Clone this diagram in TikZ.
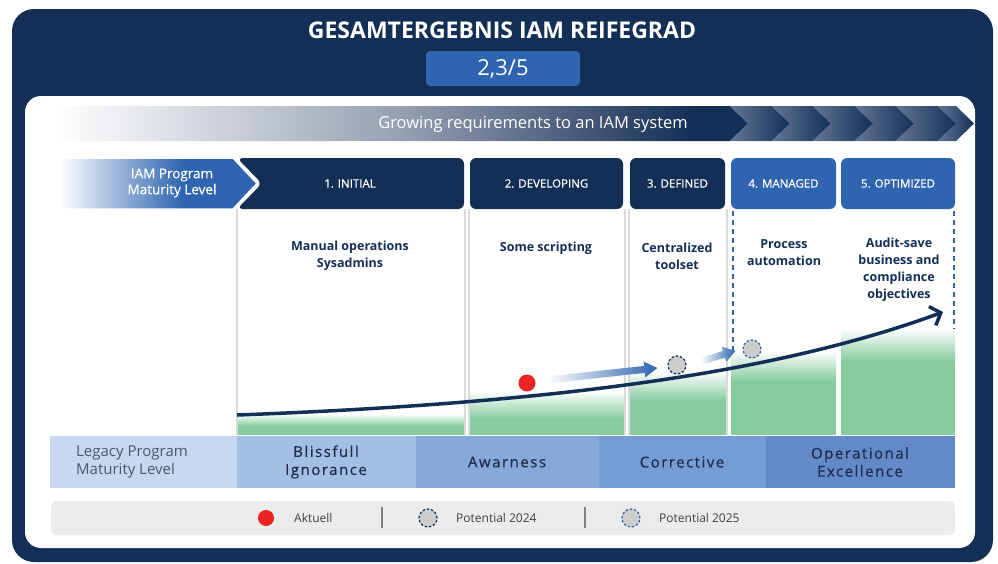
\documentclass[tikz,border=0pt]{standalone}
\usepackage{fontspec}
\setmainfont{Open Sans}
\newfontfamily\medfont[FakeBold=0.5]{Open Sans}
\usetikzlibrary{arrows.meta,calc}
\definecolor{navy}{RGB}{19,47,85}
\definecolor{mblue}{RGB}{46,100,176}
\definecolor{mgreen}{RGB}{134,204,159}
\definecolor{gbmid}{RGB}{150,160,178}
\definecolor{gbdark}{RGB}{58,78,112}
\definecolor{chevl}{RGB}{100,118,150}
\definecolor{cLegacy}{RGB}{198,217,240}
\definecolor{cBliss}{RGB}{163,191,227}
\definecolor{cAware}{RGB}{134,169,218}
\definecolor{cCorr}{RGB}{118,157,211}
\definecolor{cOper}{RGB}{100,137,200}
\definecolor{rowtext}{RGB}{30,45,75}
\definecolor{legtext}{RGB}{64,64,64}
\definecolor{legbg}{RGB}{236,236,236}
\definecolor{sepgrey}{RGB}{218,218,218}
\definecolor{dotgrey}{RGB}{205,205,205}
\definecolor{dotred}{RGB}{235,35,35}
\pgfdeclarehorizontalshading{growbar}{100bp}{color(0bp)=(white); color(25bp)=(white); color(50bp)=(gbmid); color(65bp)=(gbdark); color(71bp)=(navy); color(100bp)=(navy)}
\pgfdeclarehorizontalshading{iamarrow}{100bp}{color(0bp)=(white); color(25bp)=(white); color(56bp)=(mblue); color(100bp)=(mblue)}
\begin{document}
\begin{tikzpicture}[x=1pt,y=-1pt,
  hbox/.style={fill=navy, rounded corners=6pt, minimum height=51pt, inner sep=0pt, outer sep=0pt, text=white, font=\medfont\fontsize{11.5}{13}\selectfont},
  coltxt/.style={text=navy, font=\bfseries\fontsize{12.5}{17}\selectfont, align=center, inner sep=0pt},
  cell/.style={minimum height=52pt, inner sep=0pt, outer sep=0pt},
  rowtxt/.style={text=rowtext, font=\medfont\fontsize{15}{18}\selectfont\addfontfeatures{LetterSpace=10}, align=center, inner sep=0pt},
  legtxt/.style={text=legtext, font=\fontsize{12}{14}\selectfont, anchor=west, inner sep=0pt},
  gdot/.style={circle, minimum size=18pt, inner sep=0pt, fill=dotgrey, draw=navy, line width=1.2pt, dash pattern=on 2.5pt off 1.8pt},
  bdot/.style={circle, minimum size=18pt, inner sep=0pt, fill=dotgrey, draw=mblue, line width=1.2pt, dash pattern=on 2.5pt off 1.8pt},
  rdot/.style={circle, minimum size=17pt, inner sep=0pt, fill=dotred},
  greenfade/.style={top color=white, bottom color=mgreen},
]
\useasboundingbox (0,0) rectangle (998,563);
% frames
\fill[navy, rounded corners=22pt] (12,9) rectangle (993,562);
\fill[white, rounded corners=16pt] (25,96) rectangle (975,548);
% title
\node[text=white, font=\bfseries\fontsize{23}{26}\selectfont, inner sep=0pt] (title) at (502,30) {GESAMTERGEBNIS IAM REIFEGRAD};
\node[fill=mblue, rounded corners=4pt, minimum width=154pt, minimum height=35pt, inner sep=0pt, text=white, font=\fontsize{22}{24}\selectfont] (score) at (503,68.5) {2,3/5};
% growing bar
\shade[shading=growbar] (55,106) -- (730,106) -- (748,123.5) -- (730,141) -- (55,141) -- cycle;
\foreach \a/\b in {748/790, 790/831, 831/873, 873/914, 914/956, 956/974}{
  \shade[left color=chevl, right color=navy] ({\a-18},106) -- ({\b-18},106) -- (\b,123.5) -- ({\b-18},141) -- ({\a-18},141) -- (\a,123.5) -- cycle;
}
\node[text=white, font=\fontsize{16.5}{19}\selectfont, inner sep=0pt] (grow) at (533,124) {Growing requirements to an IAM system};
% columns: green areas
\foreach \l/\r/\t/\f in {237/465/414/12, 469/624/391/28, 630/726/371/30, 731/836/351/30, 841/955/329/32}{
  \fill[mgreen] (\l,{\t+\f}) rectangle (\r,435);
  \shade[greenfade] (\l,\t) rectangle (\r,{\t+\f});
}
% column borders
\foreach \x in {237,465,469,625,629,727}{
  \draw[sepgrey, line width=1.2pt] (\x,209) -- (\x,435);
}
\draw[mblue, line width=1.6pt, dash pattern=on 5pt off 4pt] (733,211) -- (733,350);
\draw[mblue, line width=1.6pt, dash pattern=on 5pt off 4pt] (954,211) -- (954,329);
% header row
\shade[shading=iamarrow, draw=white, line width=1.5pt] (60,158) -- (233,158) -- (257,183.5) -- (233,209) -- (60,209) -- cycle;
\node[text=white, font=\medfont\fontsize{13.5}{16}\selectfont, align=center, inner sep=0pt] (iam) at (172,183) {IAM Program\\Maturity Level};
\fill[navy, rounded corners=6pt] (237,158) -- (464,158) -- (464,209) -- (237,209) -- (262,183.5) -- cycle;
\node[text=white, font=\medfont\fontsize{11.5}{13}\selectfont, inner sep=0pt] (b1) at (350,183.5) {1. INITIAL};
\node[hbox, minimum width=153pt] (b2) at (546.5,183.5) {2. DEVELOPING};
\node[hbox, minimum width=95pt] (b3) at (677.5,183.5) {3. DEFINED};
\node[hbox, fill=mblue, minimum width=105pt] (b4) at (783.5,183.5) {4. MANAGED};
\node[hbox, fill=mblue, minimum width=114pt] (b5) at (898,183.5) {5. OPTIMIZED};
% column texts
\node[coltxt] (t1) at (350,256) {Manual operations\\Sysadmins};
\node[coltxt] (t2) at (546,248) {Some scripting};
\node[coltxt] (t3) at (677,256) {Centralized\\toolset};
\node[coltxt] (t4) at (784,253) {Process\\automation};
\node[coltxt] (t5) at (899,270) {Audit-save\\business and\\compliance\\objectives};
% curve
\coordinate (cs) at (237,415);
\coordinate (ce) at (943,312);
\draw[navy, line width=3.5pt, -{Straight Barb[length=9pt,width=20pt]}] (cs) .. controls (560,403) and (780,372) .. (ce);
% status dots and arrows
\node[rdot] (now) at (527,383) {};
\node[gdot] (p24) at (677,365) {};
\node[bdot] (p25) at (752,349) {};
\begin{scope}[shift={(547,380)}, rotate=6.2]
  \shade[left color=white, right color=mblue] (0,-3.5) -- (98,-3.5) -- (98,-8) -- (111,0) -- (98,8) -- (98,3.5) -- (0,3.5) -- cycle;
\end{scope}
\begin{scope}[shift={(702,361)}, rotate=17]
  \shade[left color=white, right color=mblue] (0,-3.5) -- (23,-3.5) -- (23,-8) -- (35,0) -- (23,8) -- (23,3.5) -- (0,3.5) -- cycle;
\end{scope}
% bottom row
\node[cell, fill=cLegacy, minimum width=187pt] (r0) at (143.5,461.5) {};
\node[text=rowtext!80, font=\fontsize{15}{18}\selectfont, align=left, anchor=west, inner sep=0pt] (r0t) at (76,462) {Legacy Program\\Maturity Level};
\node[cell, fill=cBliss, minimum width=179pt] (r1) at (326.5,461.5) {};
\node[rowtxt] (r1t) at (326,462) {Blissfull\\Ignorance};
\node[cell, fill=cAware, minimum width=183pt] (r2) at (507.5,461.5) {};
\node[rowtxt] (r2t) at (507,462) {Awarness};
\node[cell, fill=cCorr, minimum width=167pt] (r3) at (682.5,461.5) {};
\node[rowtxt] (r3t) at (682,462) {Corrective};
\node[cell, fill=cOper, minimum width=189pt] (r4) at (860.5,461.5) {};
\node[rowtxt] (r4t) at (860,462) {Operational\\Excellence};
% legend
\fill[legbg, rounded corners=6pt] (51,501) rectangle (955,535);
\node[rdot, minimum size=16pt] (lnow) at (266,518) {};
\node[legtxt] (lnowt) at (294,518) {Aktuell};
\draw[gray, line width=1.2pt] (382,507) -- (382,528);
\node[gdot] (l24) at (428,518) {};
\node[legtxt] (l24t) at (456,518) {Potential 2024};
\draw[gray, line width=1.2pt] (585,507) -- (585,528);
\node[bdot] (l25) at (631,518) {};
\node[legtxt] (l25t) at (659,518) {Potential 2025};
\end{tikzpicture}
\end{document}
